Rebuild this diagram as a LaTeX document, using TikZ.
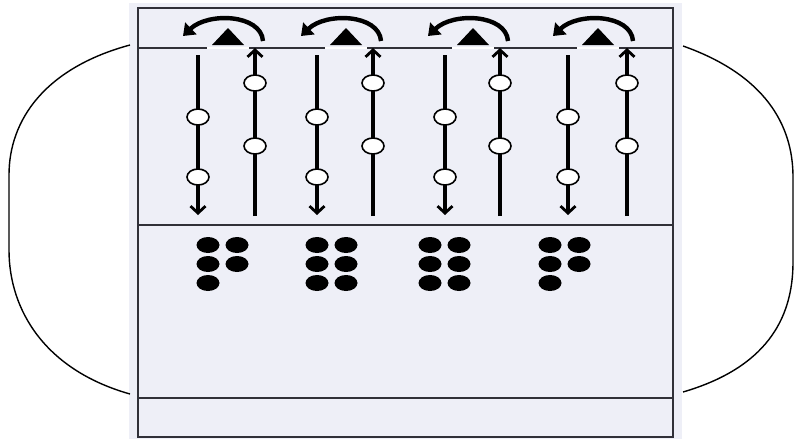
\documentclass[tikz,border=0pt]{standalone}
\usetikzlibrary{arrows.meta,shapes.geometric}
\definecolor{panel}{RGB}{238,239,247}
\definecolor{edge}{RGB}{48,48,56}
\begin{document}
\begin{tikzpicture}[x=1pt,y=-1pt,
  frame/.style={draw=edge,line width=2.8pt},
  divider/.style={draw=edge,line width=1.5pt},
  shaft/.style={line width=3.2pt,-{Straight Barb[length=7pt,width=15pt,line width=2.8pt]}},
  curl/.style={line width=4.4pt,-{Triangle[length=11pt,width=16pt]}},
  valve/.style={ellipse,draw,fill=white,line width=1.6pt,minimum width=22pt,minimum height=16pt,inner sep=0pt},
  dotmark/.style={ellipse,fill=black,minimum width=23pt,minimum height=16pt,inner sep=0pt},
  bracket/.style={draw=black,line width=1.4pt}
]
\useasboundingbox (0,0) rectangle (794,439);
% panel background
\fill[panel] (129,3) rectangle (682,439);
% outer frame
\draw[frame] (138,8) rectangle (673,437);
% dividers
\draw[divider] (138,48) -- (673,48);
\draw[divider] (138,225) -- (673,225);
\draw[divider] (138,398) -- (673,398);
% side brackets
\coordinate (lt) at (130,45);
\coordinate (lb) at (130,394);
\coordinate (rt) at (683,46);
\coordinate (rb) at (683,392);
\draw[bracket] (lt) .. controls (45,68) and (9,120) .. (9,175) -- (9,250) .. controls (9,310) and (45,370) .. (lb);
\draw[bracket] (rt) .. controls (765,75) and (793,125) .. (793,177) -- (793,262) .. controls (793,320) and (765,368) .. (rb);
% columns
\foreach \c/\d/\u/\k in {228/198/255/1, 346/317/373/2, 473/445/500/3, 598/568/627/4}{
  % gap in the divider under the triangle
  \fill[white] (\c-21,47) rectangle (\c+21,49.4);
  % triangle
  \fill[black] (\c-16,45) -- (\c,28) -- (\c+16,45) -- cycle;
  % curved arrow
  \coordinate (cs\k) at (\c+35,41);
  \coordinate (ce\k) at (\c-45,36);
  \draw[curl] (cs\k) .. controls (\c+33,14) and (\c-20,12) .. (ce\k);
  % down line
  \coordinate (dt\k) at (\d,55);
  \coordinate (db\k) at (\d,215);
  \draw[shaft] (dt\k) -- (db\k);
  \node[valve] (dv1\k) at (\d,117) {};
  \node[valve] (dv2\k) at (\d,177) {};
  % up line
  \coordinate (ub\k) at (\u,216);
  \coordinate (ut\k) at (\u,48);
  \draw[shaft] (ub\k) -- (ut\k);
  \node[valve] (uv1\k) at (\u,83) {};
  \node[valve] (uv2\k) at (\u,146) {};
}
% dot groups
\foreach \x/\k/\full in {208/1/0, 317/2/1, 430/3/1, 550/4/0}{
  \node[dotmark] (p1\k) at (\x,245) {};
  \node[dotmark] (p2\k) at (\x+29,245) {};
  \node[dotmark] (p3\k) at (\x,264) {};
  \node[dotmark] (p4\k) at (\x+29,264) {};
  \node[dotmark] (p5\k) at (\x,283) {};
  \ifnum\full=1
    \node[dotmark] (p6\k) at (\x+29,283) {};
  \fi
}
\end{tikzpicture}
\end{document}
